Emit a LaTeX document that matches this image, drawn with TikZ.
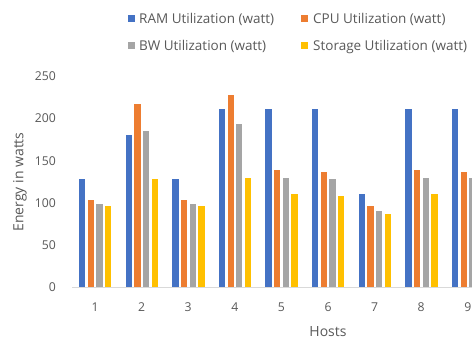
\documentclass[tikz,border=0pt]{standalone}
\usepackage{fontspec}
\setmainfont{Open Sans}
\definecolor{ram}{HTML}{4472C4}
\definecolor{cpu}{HTML}{ED7D31}
\definecolor{bw}{HTML}{A5A5A5}
\definecolor{sto}{HTML}{FFC000}
\definecolor{txt}{HTML}{595959}
\definecolor{axisc}{HTML}{D9D9D9}
\begin{document}
\begin{tikzpicture}[x=1pt,y=-1pt,
  ticklab/.style={text=txt,inner sep=0pt,font=\fontsize{12.2}{14}\selectfont},
  leglab/.style={text=txt,inner sep=0pt,anchor=west,font=\fontsize{13.5}{16}\selectfont},
  titlelab/.style={text=txt,inner sep=0pt,font=\fontsize{14}{17}\selectfont},
  legbox/.style={minimum size=7pt,inner sep=0pt,draw=none}]
\useasboundingbox (0,0) rectangle (472,341);
\clip (0,0) rectangle (472,341);
\fill[white] (0,0) rectangle (472,341);
% axis line
\coordinate (axL) at (72,287);
\coordinate (axR) at (472,287);
\draw[axisc,line width=1pt] (axL) -- (axR);
% bars
\foreach \k/\va/\vb/\vc/\vd in {1/128/103/99/96,2/180/217/185/128,3/128/103/99/96,4/211/228/194/130,5/211/139/130/110,6/211/136/128/108,7/111/96/90/87,8/211/139/130/110,9/211/137/130/110}{
  \pgfmathsetmacro\cx{95+46.6*(\k-1)}
  \fill[ram] (\cx-16,287) rectangle (\cx-9.7,287-0.842*\va);
  \fill[cpu] (\cx-7.3,287) rectangle (\cx-1,287-0.842*\vb);
  \fill[bw]  (\cx+1.3,287) rectangle (\cx+7.6,287-0.842*\vc);
  \fill[sto] (\cx+10,287) rectangle (\cx+16.3,287-0.842*\vd);
  \node[ticklab] (x\k) at (\cx,306.7) {\k};
}
% y tick labels
\foreach \v in {0,50,100,150,200,250}{
  \node[ticklab,anchor=east] (y\v) at (56,287-0.842*\v) {\v};
}
% axis titles
\node[titlelab,rotate=90] (ytitle) at (20,182) {Energy in watts};
\node[titlelab] (xtitle) at (328,332) {Hosts};
% legend
\node[legbox,fill=ram] (l1) at (131,18.5) {};
\node[leglab] (t1) at (139,19) {RAM Utilization (watt)};
\node[legbox,fill=cpu] (l2) at (304.5,18.5) {};
\node[leglab] (t2) at (313,19) {CPU Utilization (watt)};
\node[legbox,fill=bw] (l3) at (131,45.5) {};
\node[leglab] (t3) at (139,46.5) {BW Utilization (watt)};
\node[legbox,fill=sto] (l4) at (304.5,45.5) {};
\node[leglab] (t4) at (313,46.5) {Storage Utilization (watt)};
\end{tikzpicture}
\end{document}
